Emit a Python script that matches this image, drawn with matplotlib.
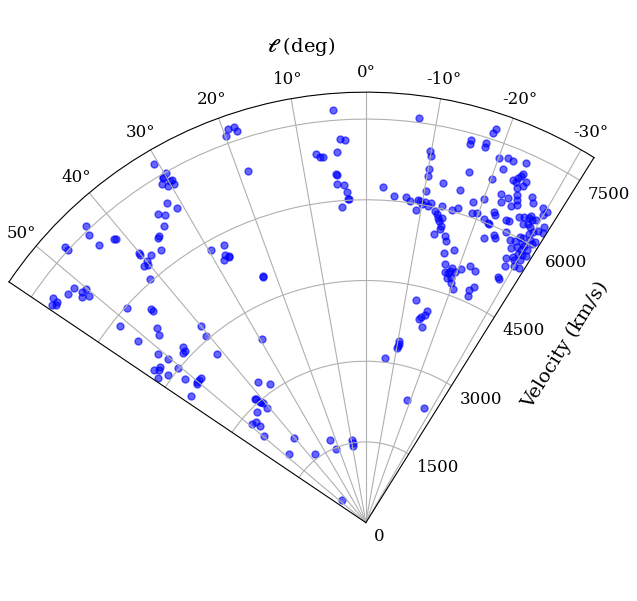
import numpy as np
import matplotlib.pyplot as plt

# galactic longitude (deg) and recession velocity (km/s)
gal_l = [
    # near l = 0..8
    4.5, 3.8, 3.1, 7.7, 7.1, 6.7, 4.4, 4.9, 4.8, 4.8, 3.7, 3.2, 3.2, 3.0, 4.3,
    # negative longitudes
    -7.5, -18.3, -18.1, -15.4, -15.4, -17.6, -17.6, -9.8, -10.1, -20.1, -21.3,
    -22.1, -24.0, -10.1, -16.4, -21.2, -24.3, -24.1, -23.8, -23.2, -23.7, -25.2,
    -10.2, -20.2, -12.8, -2.9, -24.3, -25.1, -15.8, -10.3, -4.9, -7.0, -7.8,
    -9.1, -9.6, -9.9, -10.4, -11.6, -11.2, -9.1, -22.4, -24.8, -25.1, -27.1,
    -20.1, -23.7, -18.5, -22.9, -24.6, -25.5, -27.6, -13.5, -16.3, -15.3, -18.9,
    -19.7, -22.4, -22.8, -12.6, -12.9, -13.3, -13.6, -14.2, -14.3, -14.1, -21.2,
    -22.2, -22.4, -24.8, -25.4, -26.7, -27.4, -28.1, -28.4, -28.8, -27.8, -28.5,
    -29.4, -30.3, -29.3, -29.9, -30.5, -31.0, -31.4, -29.0, -13.3, -15.4, -15.9,
    -22.6, -24.0, -24.3, -25.8, -28.3, -29.0, -29.5, -29.9, -26.9, -28.0, -27.9,
    -28.7, -29.2, -29.8, -30.1, -30.8, -31.0, -29.6, -30.5, -16.1, -18.0, -27.8,
    -28.9, -29.5, -30.2, -30.9, -29.5, -30.4, -28.5, -30.0, -31.0, -17.0, -17.5,
    -18.1, -18.5, -18.7, -18.4, -19.2, -19.6, -20.6, -19.6, -20.5, -22.1, -23.5,
    -28.3, -28.7, -24.7, -23.9, -24.3, -12.7, -16.0, -15.9, -14.9, -14.7, -16.0,
    -10.2, -10.6, -10.2, -10.4, -6.7, -18.6, -26.9,
    # positive longitudes
    19.3, 18.4, 18.2, 19.9, 18.5, 30.6, 29.8, 30.4, 30.5, 29.8, 29.5, 29.6,
    30.5, 31.1, 31.9, 31.0, 33.9, 33.1, 34.2, 35.8, 36.1, 36.9, 40.1, 40.2,
    38.8, 40.0, 40.8, 40.2, 41.5, 41.6, 41.4, 43.9, 43.3, 43.9, 47.5, 47.5,
    29.6, 27.0, 27.8, 27.2, 28.3, 27.3, 22.7, 22.8, 54.3, 55.0, 55.3, 54.5,
    52.5, 51.3, 50.9, 50.1, 50.6, 51.5, 48.0, 45.2, 45.1, 51.3, 47.1, 47.8,
    51.5, 39.9, 40.5, 41.4, 46.1, 46.5, 47.2, 50.9, 50.4, 52.9, 54.2, 53.5,
    50.5, 55.1, 53.2, 51.5, 48.7, 49.5, 50.3, 50.5, 54.0, 29.4, 37.4, 34.8,
    41.9, 41.7, 41.2, 40.8, 40.8, 40.7, 44.7, 49.0, 47.6, 47.7, 49.6, 40.2,
    48.2, 36.4, 23.7, 22.2, 9.5, 9.5, 9.4, 46.9,
]

velocity = [
    7700, 7150, 7130, 6920, 6850, 6840, 6900, 6500, 6480, 6320, 6290, 6160, 6030, 6030, 5890,
    7590, 7710, 7610, 7380, 7290, 7410, 7330, 7000, 6930, 7220, 7280,
    7260, 7310, 6680, 6800, 7040, 7100, 7060, 7010, 6930, 6920, 7000,
    6540, 6810, 6470, 6250, 6830, 6900, 6430, 6260, 6100, 6090, 6040,
    6070, 6060, 6020, 6050, 6060, 5990, 5890, 6610, 6700, 6630, 6790,
    6410, 6580, 6280, 6460, 6480, 6540, 6700, 6060, 6100, 6030, 6090,
    6120, 6240, 6200, 5930, 5890, 5820, 5770, 5620, 5680, 5840, 6060,
    6020, 6000, 6200, 6200, 6350, 6390, 6420, 6470, 6410, 6270, 6310,
    6450, 6680, 6710, 6600, 6300, 6420, 6310, 6290, 5520, 5530, 5450,
    5720, 5850, 5810, 5990, 6030, 6040, 6160, 6220, 5900, 5920, 5770,
    5840, 5950, 5930, 6080, 6030, 6090, 5830, 5890, 5220, 5320, 5570,
    5640, 5730, 5750, 5780, 5600, 5660, 5420, 5500, 5510, 5030, 4880,
    4890, 4930, 4990, 4800, 4810, 4940, 5030, 4720, 4630, 5150, 5100,
    5180, 5160, 4810, 4730, 4630, 4250, 4100, 4020, 3960, 3920, 3790,
    3430, 3370, 3290, 3330, 3080, 2410, 2390,
    7760, 7740, 7660, 7650, 6900, 7740, 7490, 7440, 7430, 7310, 7310, 7230,
    7250, 7340, 6990, 6820, 6920, 6830, 6670, 6570, 6550, 6340, 6550, 6510,
    6370, 6340, 6310, 6260, 6050, 7050, 7030, 7160, 7580, 7420, 7590, 7510,
    5830, 5800, 5630, 5580, 5550, 5560, 4960, 4950, 7160, 7040, 7090, 7060,
    6980, 6960, 6800, 6780, 6650, 6750, 5970, 5640, 5580, 5850, 5300, 5190,
    5410, 4770, 4570, 4180, 4720, 4640, 4630, 4980, 4770, 4800, 4850, 4780,
    4520, 4710, 4590, 4290, 4080, 4090, 4080, 4060, 4010, 3920, 3300, 3130,
    3090, 3070, 2990, 2970, 2930, 2810, 2880, 2800, 2760, 2670, 2490, 2060,
    1920, 1590, 1670, 1480, 1550, 1500, 1450, 620,
]

theta_ticks = [-30, -20, -10, 0, 10, 20, 30, 40, 50]
r_ticks = [0, 1500, 3000, 4500, 6000, 7500]

plt.rcParams['font.family'] = 'DejaVu Serif'
plt.rcParams['mathtext.fontset'] = 'dejavuserif'

fig = plt.figure(figsize=(6.37, 6.01), dpi=100)
# polar axes box is kept square, the wedge is fitted inside it
ax = fig.add_axes([9 / 637, 8 / 601, 585 / 637, 585 / 601], projection='polar')
ax.set_theta_zero_location('N')
ax.set_thetamin(-32)
ax.set_thetamax(56)
ax.set_rlim(0, 8000)

ax.scatter(np.radians(gal_l), velocity, s=25, c='blue', alpha=0.6)

ax.set_thetagrids(theta_ticks)
ax.set_rgrids(r_ticks)
ax.tick_params(labelsize=12)

fig.text(0.4725, 0.922, r'$\mathbfit{\ell}$ (deg)', ha='center', va='center', fontsize=14)
fig.text(0.887, 0.426, 'Velocity (km/s)', ha='center', va='center',
         rotation=58, rotation_mode='anchor', fontsize=14)

fig.savefig('out.png', dpi=100)
